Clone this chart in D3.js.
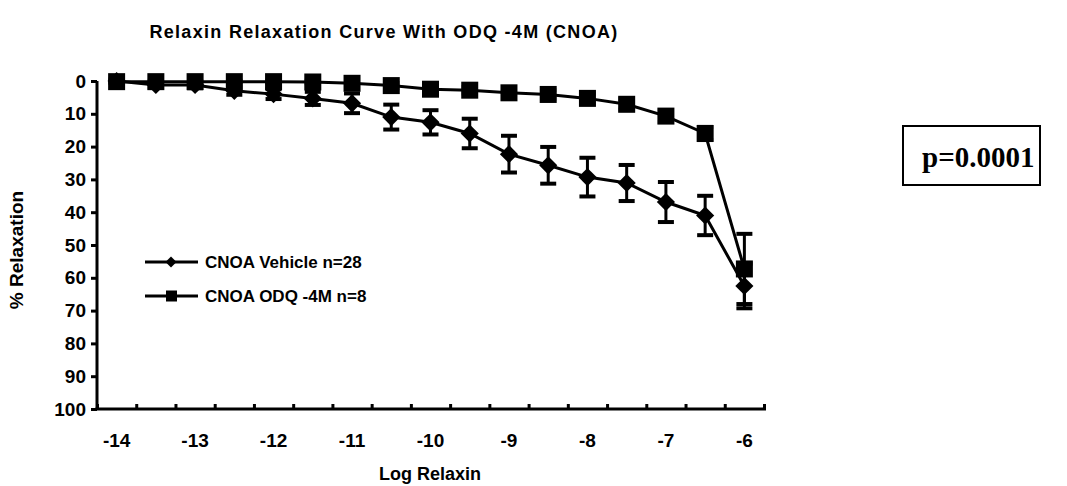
<!DOCTYPE html>
<html>
<head>
<meta charset="utf-8">
<script src="https://cdn.jsdelivr.net/npm/d3@7"></script>
<style>
body{margin:0;background:#fff;}
svg{display:block;font-family:"Liberation Sans",Arial,sans-serif;font-weight:bold;}
</style>
</head>
<body>
<div id="chart"></div>
<script>
const cats = [-14,-13.5,-13,-12.5,-12,-11.5,-11,-10.5,-10,-9.5,-9,-8.5,-8,-7.5,-7,-6.5,-6];
const catLabels = ["-14","","-13","","-12","","-11","","-10","","-9","","-8","","-7","","-6"];
const vehicle = [0,1.2,1.2,3,4,5.3,6.8,11,12.6,16,22.3,25.7,29.3,31.1,36.9,41,62.5];
const vehicleErr = [0.5,0.8,1,1.2,1.5,2,3,3.8,3.7,4.5,5.6,5.6,5.9,5.5,6.1,6,6.8];
const odq = [0.2,0.2,0.2,0.2,0.2,0.3,0.7,1.4,2.5,2.8,3.6,4.1,5.3,7.1,10.7,16,57.3];
const odqErr = [0.3,0.3,0.3,0.3,0.3,0.4,0.6,0.8,1,1,1.2,1.3,1.5,1.6,1.8,2,10.7];
const yTicks = [0,10,20,30,40,50,60,70,80,90,100];
const seriesNames = ["CNOA Vehicle n=28","CNOA ODQ -4M n=8"];

const W=1067,H=486;
const svg=d3.select("#chart").append("svg").attr("width",W).attr("height",H);

const x=d3.scaleBand().domain(cats).range([97,764]).padding(0);
const cx=d=>x(d)+x.bandwidth()/2;
const xi=d3.scaleLinear().domain([0,cats.length]).range([97,764]);
const y=d3.scaleLinear().domain([0,100]).range([81,409]);

// title
svg.append("text").attr("x",384).attr("y",38).attr("text-anchor","middle")
  .attr("font-size",18).attr("letter-spacing",1.3).text("Relaxin Relaxation Curve With ODQ -4M (CNOA)");

// y axis
const gy=svg.append("g").attr("transform","translate(97,0)")
  .call(d3.axisLeft(y).tickValues(yTicks).tickSize(6).tickPadding(5).tickFormat(d3.format("d")));
gy.select(".domain").attr("stroke-width",3).attr("d","M0,81V409");
gy.selectAll(".tick line").attr("stroke-width",3);
gy.selectAll(".tick text").attr("font-size",19).attr("font-family","Liberation Sans, Arial, sans-serif").attr("font-weight","bold").attr("fill","#000");

// x axis
const gx=svg.append("g").attr("transform","translate(0,409)")
  .call(d3.axisBottom(xi).tickValues(d3.range(cats.length+1)).tickSize(-5).tickFormat(""));
gx.select(".domain").attr("stroke-width",3).attr("d","M95.5,0H766");
gx.selectAll(".tick line").attr("stroke-width",3);
svg.append("g").selectAll("text").data(cats).join("text")
  .attr("x",d=>cx(d)).attr("y",447).attr("text-anchor","middle").attr("font-size",19)
  .text((d,i)=>catLabels[i]);

svg.append("text").attr("x",430).attr("y",480).attr("text-anchor","middle")
  .attr("font-size",18).text("Log Relaxin");
svg.append("text").attr("transform","translate(23,250) rotate(-90)").attr("text-anchor","middle")
  .attr("font-size",19).text("% Relaxation");

// series
const line=d3.line().x((d,i)=>cx(cats[i])).y(d=>y(d));
function errorBars(vals,errs){
  const g=svg.append("g").attr("stroke","#000");
  g.selectAll("line.v").data(vals).join("line").attr("class","v")
    .attr("x1",(d,i)=>cx(cats[i])).attr("x2",(d,i)=>cx(cats[i]))
    .attr("y1",(d,i)=>y(d-errs[i])).attr("y2",(d,i)=>y(d+errs[i])).attr("stroke-width",3);
  [-1,1].forEach(s=>{
    g.selectAll("line.c"+(s>0?"p":"m")).data(vals).join("line").attr("class","c"+(s>0?"p":"m"))
      .attr("x1",(d,i)=>cx(cats[i])-8).attr("x2",(d,i)=>cx(cats[i])+8)
      .attr("y1",(d,i)=>y(d+s*errs[i])).attr("y2",(d,i)=>y(d+s*errs[i])).attr("stroke-width",4);
  });
}
errorBars(vehicle,vehicleErr);
errorBars(odq,odqErr);
svg.append("path").datum(vehicle).attr("fill","none").attr("stroke","#000").attr("stroke-width",3).attr("d",line);
svg.append("path").datum(odq).attr("fill","none").attr("stroke","#000").attr("stroke-width",3).attr("d",line);

const diamond=d3.symbol().type(d3.symbolSquare).size(165);
svg.append("g").selectAll("path").data(vehicle).join("path")
  .attr("transform",(d,i)=>`translate(${cx(cats[i])},${y(d)}) rotate(45)`).attr("d",diamond).attr("fill","#000");
svg.append("g").selectAll("rect").data(odq).join("rect")
  .attr("x",(d,i)=>cx(cats[i])-8.5).attr("y",d=>y(d)-8.5).attr("width",17).attr("height",17).attr("fill","#000");

// legend
const leg=svg.append("g");
seriesNames.forEach((name,k)=>{
  const ly=262+k*34;
  leg.append("line").attr("x1",145).attr("x2",198).attr("y1",ly).attr("y2",ly).attr("stroke","#000").attr("stroke-width",3);
  if(k===0) leg.append("path").attr("transform",`translate(171,${ly}) rotate(45)`).attr("d",d3.symbol().type(d3.symbolSquare).size(60)).attr("fill","#000");
  else leg.append("rect").attr("x",166).attr("y",ly-5.5).attr("width",11).attr("height",11).attr("fill","#000");
  leg.append("text").attr("x",205).attr("y",ly+6).attr("font-size",17).text(name);
});

// p value box
svg.append("rect").attr("x",903).attr("y",126).attr("width",137).attr("height",59)
  .attr("fill","#fff").attr("stroke","#000").attr("stroke-width",2);
svg.append("text").attr("x",922).attr("y",167)
  .attr("font-family","Liberation Serif, Times New Roman, serif").attr("font-size",29).text("p=0.0001");
</script>
</body>
</html>
